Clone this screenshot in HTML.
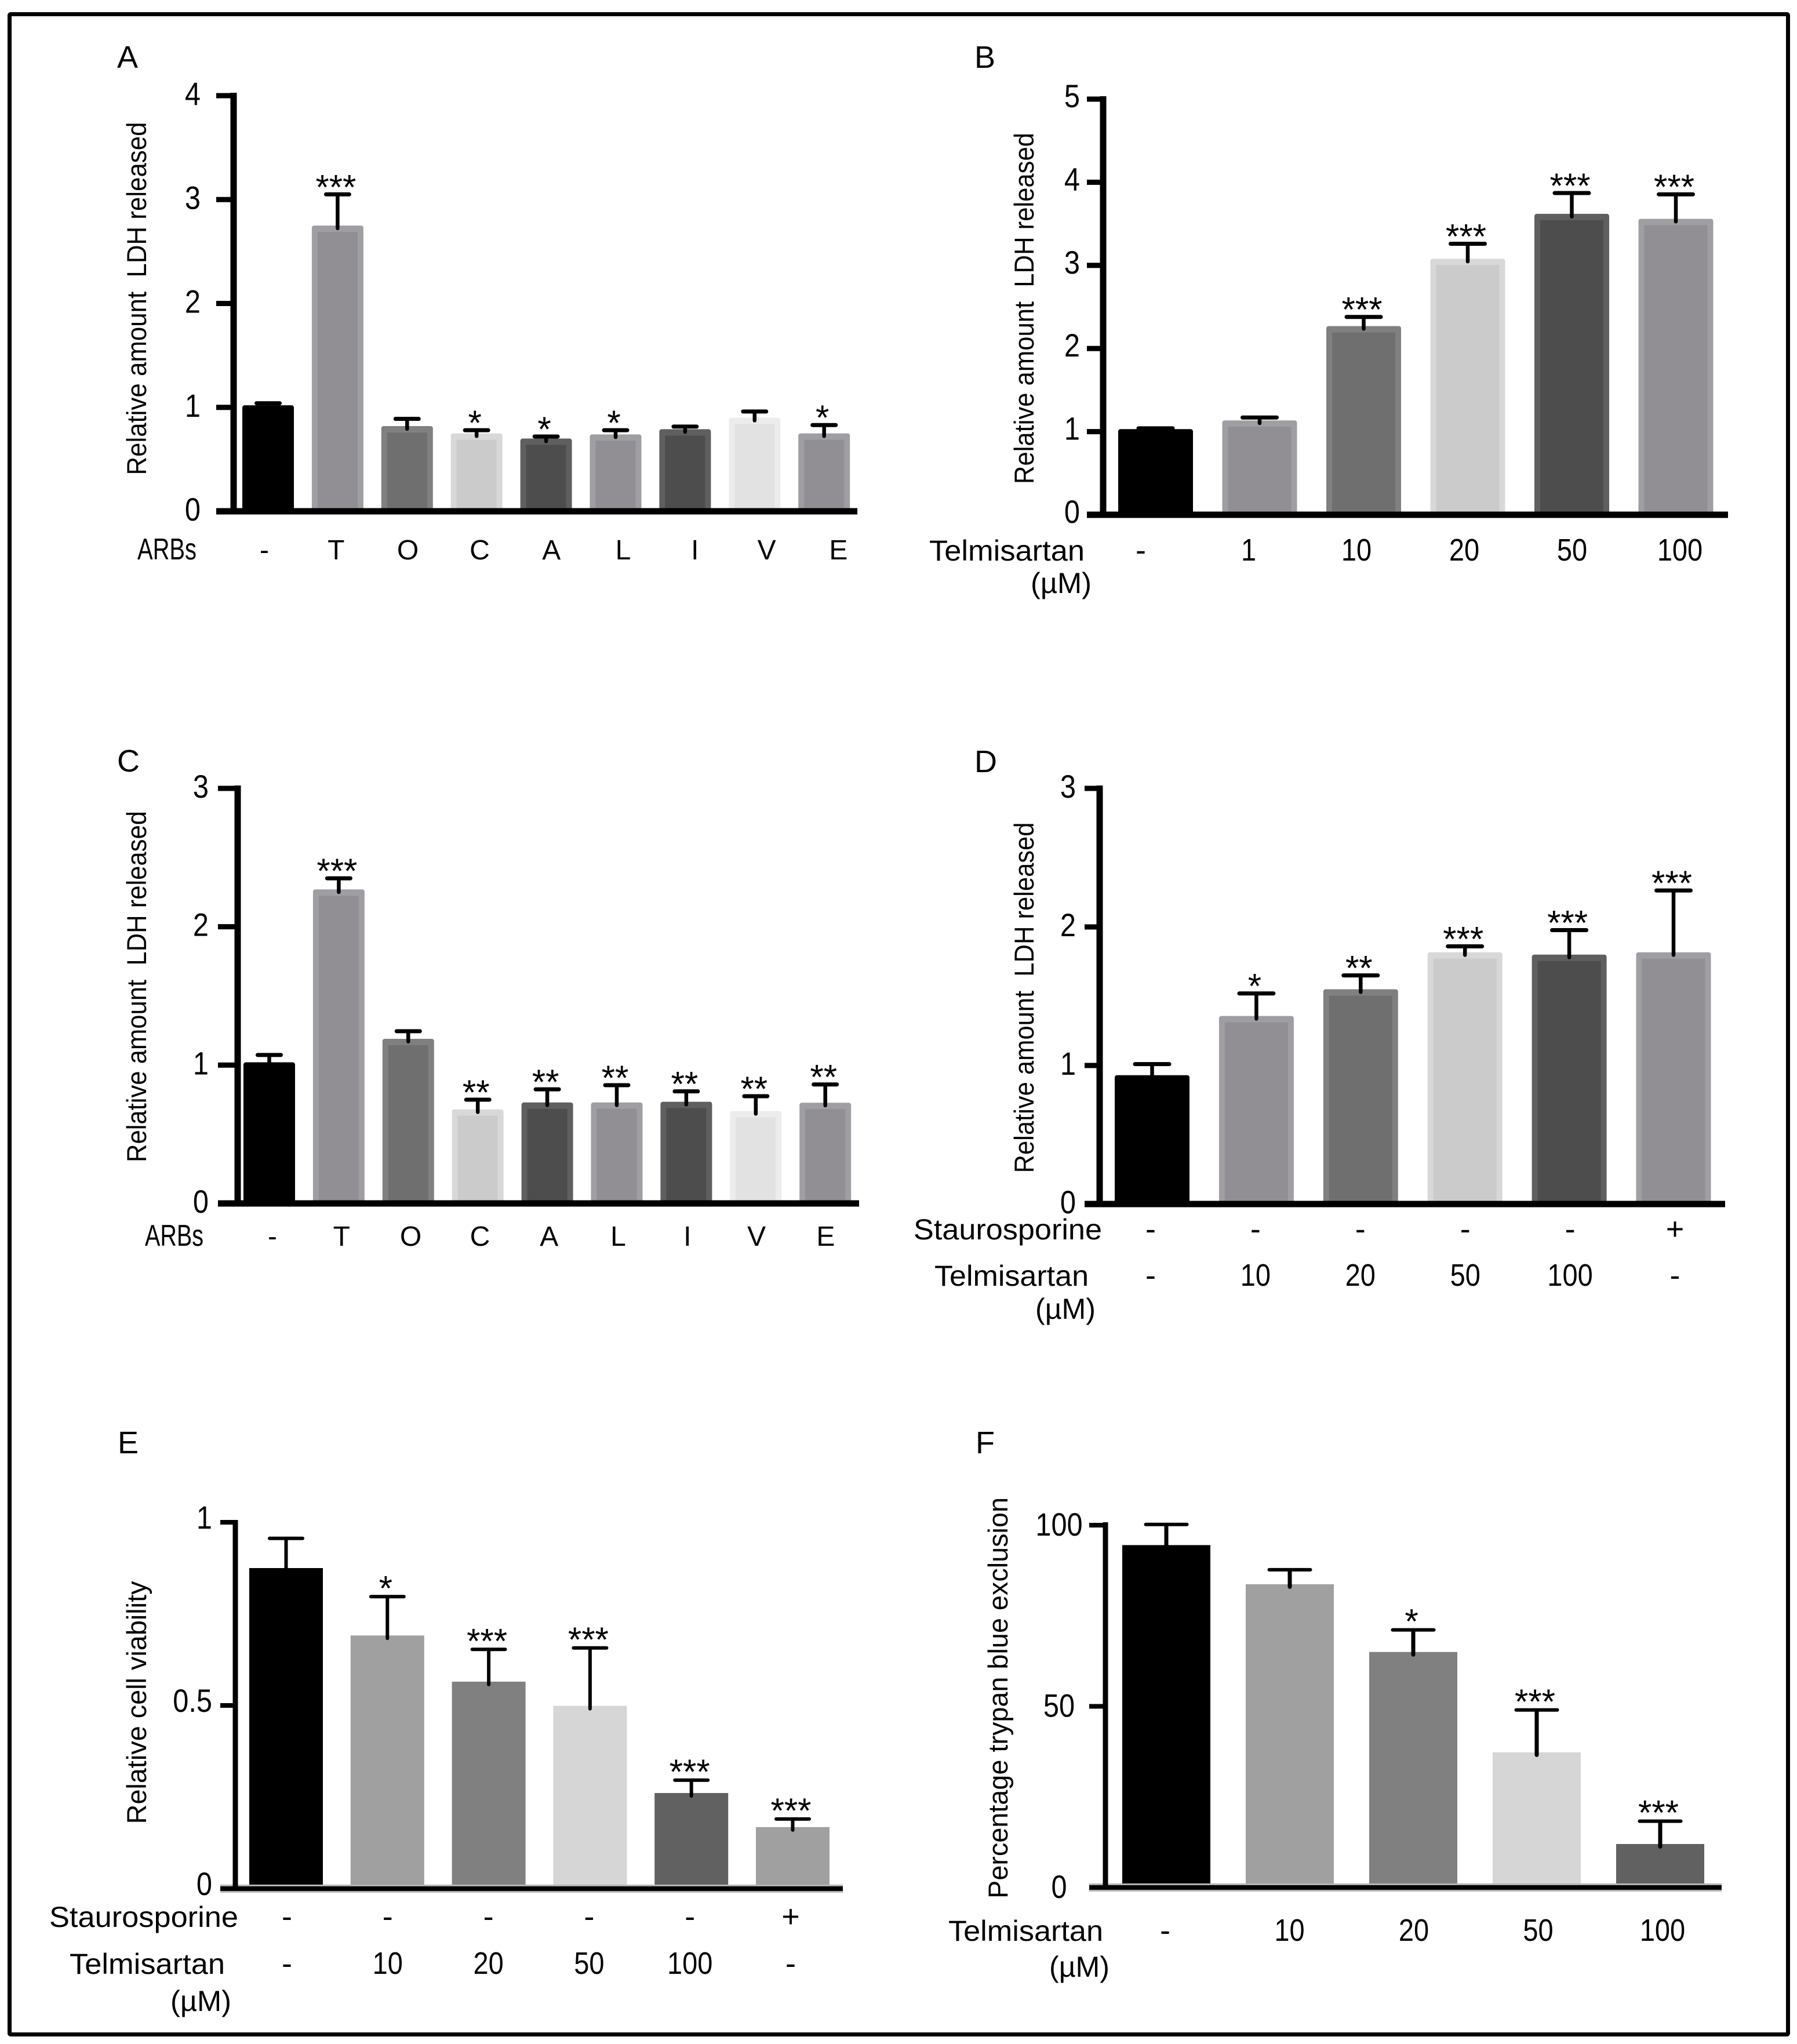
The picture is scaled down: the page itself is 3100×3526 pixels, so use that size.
<!DOCTYPE html>
<html lang="en">
<head>
<meta charset="utf-8">
<title>LDH release and cell viability bar charts</title>
<style>
html,body{margin:0;padding:0;background:#fff;}
svg{display:block;font-family:"Liberation Sans",sans-serif;fill:#000;}
svg text{white-space:pre;}
</style>
</head>
<body>
<svg id="figure" xmlns="http://www.w3.org/2000/svg" width="3100" height="3526" viewBox="0 0 3100 3526">
<rect x="0" y="0" width="3100" height="3526" fill="#fff"/>
<rect x="16.5" y="24.5" width="3068" height="3485" fill="none" stroke="#000" stroke-width="7" rx="2"/>
</svg>
<script>
// ---- Panel A data ----
const categoriesA = ['-','T','O','C','A','L','I','V','E'];
const valuesA = [1.02,2.75,0.82,0.75,0.70,0.74,0.79,0.90,0.75];
const errorTopsA = [1.04,3.05,0.89,0.78,0.72,0.78,0.815,0.96,0.83];
const starsA = ['','***','','*','*','*','','','*'];
const ticksA = [0,1,2,3,4];
// ---- Panel B data ----
const categoriesB = ['-','1','10','20','50','100'];
const valuesB = [1.03,1.135,2.27,3.08,3.62,3.56];
const errorTopsB = [1.04,1.17,2.38,3.26,3.87,3.855];
const starsB = ['','','***','***','***','***'];
const ticksB = [0,1,2,3,4,5];
// ---- Panel C data ----
const categoriesC = ['-','T','O','C','A','L','I','V','E'];
const valuesC = [1.02,2.27,1.19,0.68,0.73,0.73,0.735,0.668,0.728];
const errorTopsC = [1.073,2.35,1.245,0.75,0.825,0.855,0.81,0.775,0.86];
const starsC = ['','***','','**','**','**','**','**','**'];
const ticksC = [0,1,2,3];
// ---- Panel D data ----
const staurosporineD = ['-','-','-','-','-','+'];
const categoriesD = ['-','10','20','50','100','-'];
const valuesD = [0.93,1.357,1.55,1.817,1.80,1.817];
const errorTopsD = [1.01,1.52,1.65,1.86,1.977,2.263];
const starsD = ['','*','**','***','***','***'];
const ticksD = [0,1,2,3];
// ---- Panel E data ----
const staurosporineE = ['-','-','-','-','-','+'];
const categoriesE = ['-','10','20','50','100','-'];
const valuesE = [0.875,0.691,0.565,0.499,0.261,0.168];
const errorTopsE = [0.956,0.797,0.653,0.657,0.296,0.19];
const starsE = ['','*','***','***','***','***'];
const ticksE = [0,0.5,1];
// ---- Panel F data ----
const categoriesF = ['-','10','20','50','100'];
const valuesF = [94.5,83.7,65,37.3,12];
const errorTopsF = [100.2,87.7,71.1,49,18.3];
const starsF = ['','','*','***','***'];
const ticksF = [0,50,100];

// ---- Styling, kept apart from the data ----
const edgedShades = {
  black:['#000','#000'], mid:['#9f9ea2','#918f94'], dim:['#808080','#6f6f6f'],
  light:['#d8d8d8','#cbcbcb'], dark:['#5f5f5f','#4d4d4d'], pale:['#ececec','#e2e2e2']
};
const flatShades = {
  black:['#000','#000'], mid:['#a0a0a0','#a0a0a0'], dim:['#808080','#808080'],
  light:['#d6d6d6','#d6d6d6'], dark:['#616161','#616161']
};
const shadesAC = ['black','mid','dim','light','dark','mid','dark','pale','mid'];
const shadesBD = ['black','mid','dim','light','dark','mid'];
const shadesEF = ['black','mid','dim','light','dark','mid'];

const svg = document.getElementById('figure');
const NS = 'http://www.w3.org/2000/svg';

function addRect(name, x, y, w, h, fill, rx) {
  const el = document.createElementNS(NS, 'rect');
  
  
  el.setAttribute('x', x);
  el.setAttribute('y', y);
  el.setAttribute('width', Math.max(0, w));
  el.setAttribute('height', Math.max(0, h));
  el.setAttribute('fill', fill);
  if (rx) el.setAttribute('rx', rx);
  svg.appendChild(el);
  return el;
}

function addText(name, str, x, y, size, anchor, len, rotate) {
  const el = document.createElementNS(NS, 'text');
  
  
  el.setAttribute('x', x);
  el.setAttribute('y', y);
  el.setAttribute('font-size', size);
  el.setAttribute('text-anchor', anchor || 'start');
  if (len) {
    el.setAttribute('textLength', len);
    el.setAttribute('lengthAdjust', 'spacingAndGlyphs');
  }
  if (rotate) el.setAttribute('transform', 'rotate(-90 ' + x + ' ' + y + ')');
  el.textContent = str;
  svg.appendChild(el);
  return el;
}

// condensed width for numeric strings, so the figures read tall and narrow
function numberWidth(str, size) {
  if (!/^[0-9.]+$/.test(str)) return 0;
  let w = 0;
  for (const ch of str) w += ch === '.' ? 0.278 : 0.556;
  return w * size * 0.87;
}

function drawPanel(p) {
  const id = p.id.toLowerCase();
  const yScale = v => p.y0 - v * (p.y0 - p.yTop) / p.yMax;
  const xBand = i => p.barStart + i * p.barStep;
  const xLabel = i => p.labelStart + i * p.labelStep;

  addText('panel-label-' + id, p.id, p.letterX, p.letterY, 54);
  addText('y-axis-title-' + id, p.title, p.titleX, p.titleY, 47, 'middle', p.titleLen, true);

  // bars
  p.values.forEach((v, i) => {
    const shade = p.palette[p.shades[i]];
    const x = xBand(i), top = yScale(v), h = p.y0 - top;
    addRect('bar-' + id + '-' + i, x, top, p.barW, h, shade[0], p.rx);
    if (p.inset) {
      addRect('bar-fill-' + id + '-' + i, x + p.inset, top + p.inset + 1, p.barW - 2 * p.inset, h - p.inset - 1, shade[1]);
    }
  });

  // error bars and significance stars
  p.errorTops.forEach((e, i) => {
    const cx = xBand(i) + p.barW / 2, capY = yScale(e), barTop = yScale(p.values[i]);
    addRect('error-stem-' + id + '-' + i, cx - p.stemW / 2, capY, p.stemW, barTop - capY + 8, '#000', p.stemW / 2);
    addRect('error-cap-' + id + '-' + i, cx - p.capW / 2, capY - p.capH / 2, p.capW, p.capH, '#000', p.capH / 2);
    if (p.stars[i]) {
      addText('significance-' + id + '-' + i, p.stars[i], cx - 3, capY + p.starDrop, 60, 'middle');
    }
  });

  // axes
  if (p.halo) addRect('x-axis-halo-' + id, p.tickLeft, p.y0 - 7, p.axisRight - p.tickLeft, 14, '#b4b4b4');
  addRect('x-axis-' + id, p.tickLeft, p.y0 - p.xAxisH / 2, p.axisRight - p.tickLeft, p.xAxisH, '#000');
  addRect('y-axis-' + id, p.axisX - p.yAxisW / 2, p.axisTop, p.yAxisW, p.y0 - p.axisTop, '#000');

  // ticks
  p.ticks.forEach(t => {
    const ty = yScale(t);
    const label = String(t);
    addRect('y-tick-' + id + '-' + t, p.tickLeft, ty - p.tickH / 2, p.axisX - p.tickLeft, p.tickH, '#000');
    addText('y-tick-label-' + id + '-' + t, label, p.tickTextX, ty + p.tickDrop, 56, p.tickAnchor, numberWidth(label, 56));
  });

  // category rows
  p.rows.forEach((r, k) => {
    addText('row-title-' + id + '-' + k, r.title, r.titleX, r.y, r.titleSize || 47, 'start', r.titleLen);
    r.labels.forEach((s, i) => {
      addText('x-label-' + id + '-' + k + '-' + i, s, xLabel(i), r.y, p.catSize, 'middle', numberWidth(s, p.catSize));
    });
  });
  if (p.unit) addText('unit-label-' + id, '(\u00b5M)', p.unit.x, p.unit.y, 50, 'start', p.unit.len);
}

const narrow = {barW:89, inset:10, rx:4, stemW:6.5, capW:47, capH:7, yAxisW:11, xAxisH:11, tickH:9, catSize:48, starDrop:8, halo:false, tickAnchor:'end'};
const wide = {barW:129, inset:10, rx:4, stemW:6.5, capW:66, capH:7, yAxisW:11, xAxisH:11, tickH:9, catSize:54, starDrop:8, halo:false, tickAnchor:'end'};

drawPanel(Object.assign({}, narrow, {
  id:'A', title:'Relative amount  LDH released', titleX:252, titleY:515, titleLen:609,
  letterX:202, letterY:117, values:valuesA, errorTops:errorTopsA, stars:starsA, ticks:ticksA,
  palette:edgedShades, shades:shadesAC, yMax:4, y0:882, yTop:165, axisTop:160, axisX:403,
  tickLeft:373, axisRight:1479, barStart:418, barStep:119.9, labelStart:456, labelStep:123.8,
  tickTextX:346, tickDrop:16,
  rows:[{title:'ARBs', titleX:237, titleLen:102, titleSize:52, y:965, labels:categoriesA}]
}));

drawPanel(Object.assign({}, wide, {
  id:'B', title:'Relative amount  LDH released', titleX:1783, titleY:532, titleLen:606,
  letterX:1681, letterY:117, values:valuesB, errorTops:errorTopsB, stars:starsB, ticks:ticksB,
  palette:edgedShades, shades:shadesBD, yMax:5, y0:888, yTop:171, axisTop:166, axisX:1903,
  tickLeft:1875, axisRight:2981, barStart:1929, barStep:179.5, labelStart:1968, labelStep:186,
  tickTextX:1863, tickDrop:14,
  rows:[{title:'Telmisartan', titleX:1603, titleLen:268, titleSize:50, y:967, labels:categoriesB}],
  unit:{x:1778, y:1023, len:105}
}));

drawPanel(Object.assign({}, narrow, {
  id:'C', title:'Relative amount  LDH released', titleX:252, titleY:1702, titleLen:606,
  letterX:202, letterY:1331, values:valuesC, errorTops:errorTopsC, stars:starsC, ticks:ticksC,
  palette:edgedShades, shades:shadesAC, yMax:3, y0:2076, yTop:1360, axisTop:1355, axisX:410,
  tickLeft:376, axisRight:1482, barStart:420, barStep:119.9, labelStart:470, labelStep:119.3,
  tickTextX:360, tickDrop:16,
  rows:[{title:'ARBs', titleX:250, titleLen:101, titleSize:52, y:2149, labels:categoriesC}]
}));

drawPanel(Object.assign({}, wide, {
  id:'D', title:'Relative amount  LDH released', titleX:1783, titleY:1721, titleLen:605,
  letterX:1681, letterY:1332, values:valuesD, errorTops:errorTopsD, stars:starsD, ticks:ticksD,
  palette:edgedShades, shades:shadesBD, yMax:3, y0:2077, yTop:1360, axisTop:1355, axisX:1897,
  tickLeft:1871, axisRight:2976, barStart:1923, barStep:179.9, labelStart:1985, labelStep:180.9,
  tickTextX:1856, tickDrop:16,
  rows:[
    {title:'Staurosporine', titleX:1576, titleLen:325, titleSize:50, y:2138, labels:staurosporineD},
    {title:'Telmisartan', titleX:1612, titleLen:266, titleSize:50, y:2218, labels:categoriesD}
  ],
  unit:{x:1786, y:2275, len:104}
}));

drawPanel(Object.assign({}, wide, {
  id:'E', title:'Relative cell viability', titleX:252, titleY:2937, titleLen:419,
  letterX:203, letterY:2507, values:valuesE, errorTops:errorTopsE, stars:starsE, ticks:ticksE,
  palette:flatShades, shades:shadesEF, yMax:1, y0:3258, yTop:2626, axisTop:2622, axisX:406,
  tickLeft:380, axisRight:1454, barW:127, barStart:430, barStep:174.8, labelStart:495, labelStep:173.8,
  inset:0, rx:0, stemW:6, capW:63, capH:6, yAxisW:9, xAxisH:8, tickH:8, starDrop:6, halo:true,
  tickTextX:366, tickDrop:11,
  rows:[
    {title:'Staurosporine', titleX:85, titleLen:326, titleSize:50, y:3324, labels:staurosporineE},
    {title:'Telmisartan', titleX:120, titleLen:268, titleSize:50, y:3405, labels:categoriesE}
  ],
  unit:{x:294, y:3469, len:105}
}));

drawPanel(Object.assign({}, wide, {
  id:'F', title:'Percentage trypan blue exclusion', titleX:1738, titleY:2929, titleLen:692,
  letterX:1683, letterY:2507, values:valuesF, errorTops:errorTopsF, stars:starsF, ticks:ticksF,
  palette:flatShades, shades:shadesEF, yMax:100, y0:3256, yTop:2631, axisTop:2626, axisX:1907,
  tickLeft:1879, axisRight:2970, barW:152, barStart:1936, barStep:213, labelStart:2010, labelStep:214.5,
  inset:0, rx:0, stemW:7, capW:77, capH:6, yAxisW:9, xAxisH:8, tickH:8, starDrop:6, halo:true,
  tickTextX:1827, tickDrop:18, tickAnchor:'middle',
  rows:[{title:'Telmisartan', titleX:1636, titleLen:267, titleSize:50, y:3348, labels:categoriesF}],
  unit:{x:1810, y:3410, len:104}
}));
</script>
</body>
</html>
